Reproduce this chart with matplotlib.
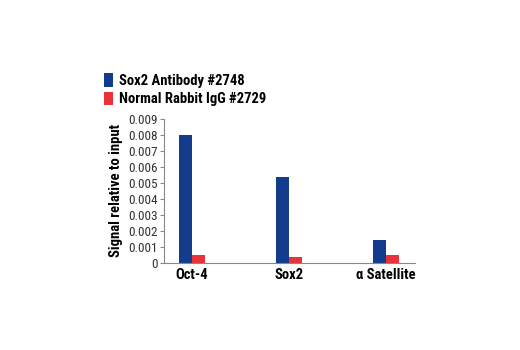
import matplotlib
matplotlib.use("Agg")
import matplotlib.pyplot as plt
from matplotlib import font_manager
import numpy as np

names = {f.name for f in font_manager.fontManager.ttflist}
fams = [n for n in ["Roboto Condensed", "Fira Sans Condensed", "Sofia Sans Condensed"] if n in names]
plt.rcParams['font.family'] = fams + ['DejaVu Sans']

categories = ["Oct-4", "Sox2", "\u03b1 Satellite"]
sox2_antibody = [0.0080, 0.0054, 0.0014]
rabbit_igg = [0.0005, 0.00035, 0.0005]
series_names = ["Sox2 Antibody #2748", "Normal Rabbit IgG #2729"]
yticks = [0, 0.001, 0.002, 0.003, 0.004, 0.005, 0.006, 0.007, 0.008, 0.009]
ytick_labels = ["0", "0.001", "0.002", "0.003", "0.004", "0.005", "0.006", "0.007", "0.008", "0.009"]

blue = "#143c8c"
red = "#e8333a"

fig = plt.figure(figsize=(5.2, 3.5), dpi=100)
ax = fig.add_axes([0.315, 0.249, 0.483, 0.411])
x = np.arange(len(categories))
w = 0.135
b1 = ax.bar(x - w/2, sox2_antibody, w, color=blue, label=series_names[0])
b2 = ax.bar(x + w/2, rabbit_igg, w, color=red, label=series_names[1])
ax.set_xlim(-0.29, 2.30)
ax.set_ylim(0, 0.009)
ax.set_yticks(yticks)
ax.set_yticklabels(ytick_labels, fontsize=9.5, color="#333333")
ax.set_xticks(x)
ax.set_xticklabels(categories, fontsize=10.5, fontweight="bold")
ax.tick_params(axis='x', length=0, pad=4)
ax.tick_params(axis='y', length=3, width=0.8, color="#888888", pad=1)
for s in ["top", "right"]:
    ax.spines[s].set_visible(False)
for s in ["left", "bottom"]:
    ax.spines[s].set_color("#888888")
    ax.spines[s].set_linewidth(0.8)
ax.set_ylabel("Signal relative to input", fontsize=10.5, fontweight="bold", labelpad=4)

fig.legend(handles=[b1, b2], labels=series_names, loc="upper left",
           bbox_to_anchor=(0.2, 0.79), frameon=False,
           prop={'weight': 'bold', 'size': 10.5}, handlelength=0.6, handleheight=1.0,
           handletextpad=0.45, labelspacing=0.25, borderaxespad=0, borderpad=0)

fig.savefig("out.png", dpi=100)
